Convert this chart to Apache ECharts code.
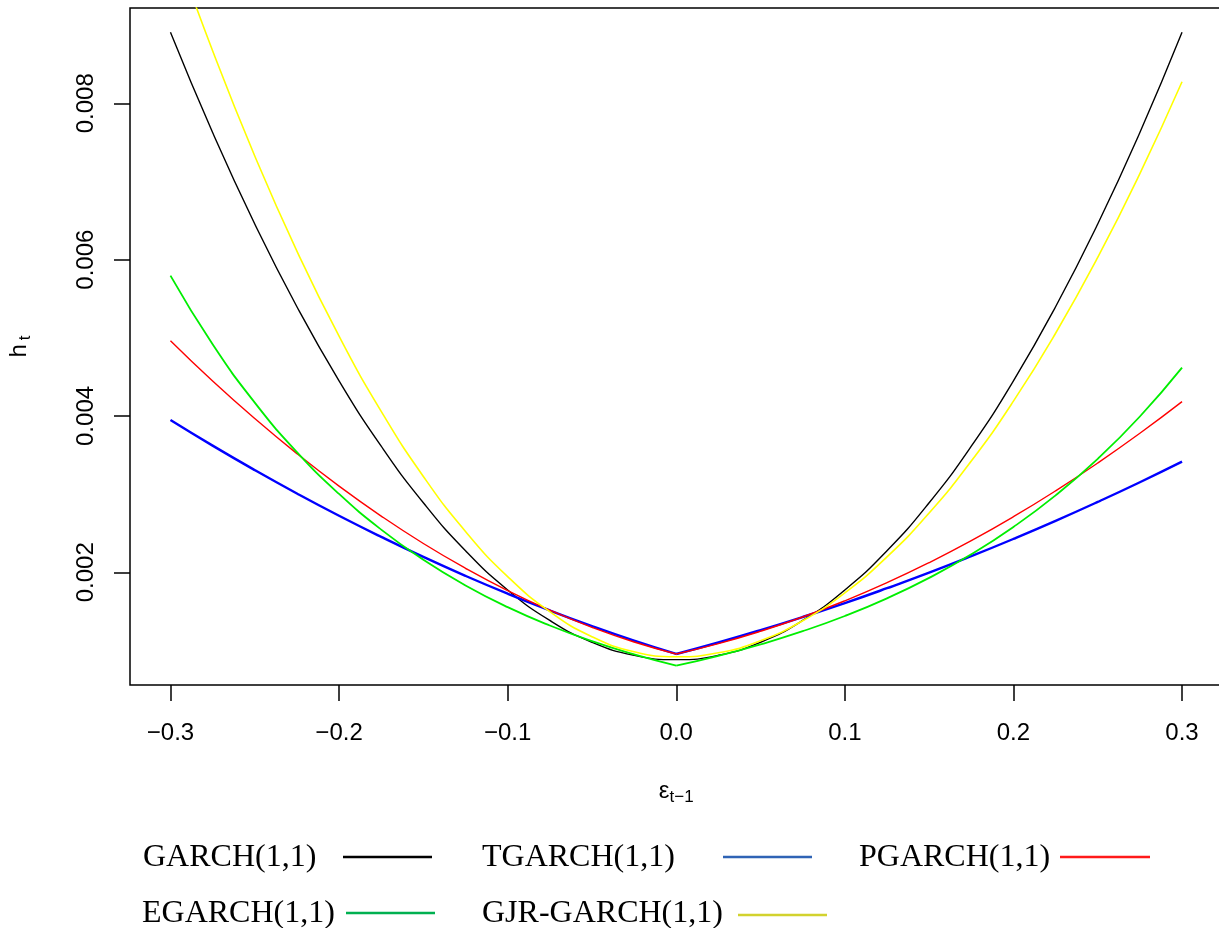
<!DOCTYPE html>
<html>
<head>
<meta charset="utf-8">
<script src="https://cdn.jsdelivr.net/npm/echarts@6/dist/echarts.min.js"></script>
<style>
  html, body { margin: 0; padding: 0; background: #fff; }
  #chart { width: 1219px; height: 928px; }
</style>
</head>
<body>
<div id="chart"></div>
<script>
// 冲击 ε(t-1)
const eps = [-0.3, -0.275, -0.25, -0.225, -0.2, -0.175, -0.15, -0.125, -0.1, -0.075, -0.05, -0.025, 0,
  0.025, 0.05, 0.075, 0.1, 0.125, 0.15, 0.175, 0.2, 0.225, 0.25, 0.275, 0.3];

// 各模型的条件方差 h(t)
const garch = [0.008908, 0.007626, 0.006456, 0.005397, 0.004449, 0.003613, 0.002889, 0.002275, 0.001774, 0.001384, 0.001105, 0.000938, 0.000882,
  0.000938, 0.001105, 0.001384, 0.001774, 0.002275, 0.002889, 0.003613, 0.004449, 0.005397, 0.006456, 0.007626, 0.008908];
const tgarch = [0.003948, 0.003620, 0.003307, 0.003008, 0.002723, 0.002453, 0.002196, 0.001954, 0.001726, 0.001512, 0.001312, 0.001126, 0.000955,
  0.001102, 0.001260, 0.001428, 0.001606, 0.001796, 0.001995, 0.002206, 0.002427, 0.002658, 0.002900, 0.003152, 0.003415];
const pgarch = [0.004963, 0.004448, 0.003967, 0.003518, 0.003102, 0.002719, 0.002368, 0.002051, 0.001766, 0.001515, 0.001295, 0.001108, 0.000955,
  0.001088, 0.001246, 0.001428, 0.001635, 0.001867, 0.002124, 0.002405, 0.002711, 0.003042, 0.003398, 0.003778, 0.004183];
const egarch = [0.005795, 0.004916, 0.004171, 0.003538, 0.003002, 0.002546, 0.002160, 0.001832, 0.001554, 0.001319, 0.001119, 0.000949, 0.000805,
  0.000931, 0.001077, 0.001246, 0.001441, 0.001667, 0.001928, 0.002230, 0.002580, 0.002984, 0.003452, 0.003993, 0.004618];
const gjr = [0.010145, 0.008672, 0.007326, 0.006109, 0.005020, 0.004059, 0.003226, 0.002522, 0.001945, 0.001497, 0.001176, 0.000984, 0.000920,
  0.000971, 0.001124, 0.001380, 0.001737, 0.002197, 0.002759, 0.003423, 0.004189, 0.005058, 0.006028, 0.007101, 0.008276];

// 刻度
const xTicks = [-0.3, -0.2, -0.1, 0, 0.1, 0.2, 0.3];
const yTicks = [0.002, 0.004, 0.006, 0.008];

// 图例文字
const names = ['GARCH(1,1)', 'TGARCH(1,1)', 'PGARCH(1,1)', 'EGARCH(1,1)', 'GJR-GARCH(1,1)'];

const chart = echarts.init(document.getElementById('chart'));

const toPairs = vals => eps.map((e, i) => [e, vals[i]]);
const mid = eps.indexOf(0);

function lineSeries(name, pairs, color, width) {
  return {
    name: name,
    type: 'line',
    data: pairs,
    symbol: 'none',
    smooth: 0.5,
    clip: true,
    lineStyle: { color: color, width: width },
    itemStyle: { color: color },
    emphasis: { disabled: true },
  };
}

// 在 0 处有折点的曲线，分成左右两段画
function kinked(name, vals, color, width) {
  const pairs = toPairs(vals);
  return [
    lineSeries(name, pairs.slice(0, mid + 1), color, width),
    lineSeries(name, pairs.slice(mid), color, width),
  ];
}

// 图例：文字在左，线段在右
function legendItem(text, tx, ty, x1, x2, ly, color) {
  return {
    type: 'group',
    children: [
      {
        type: 'text',
        left: tx, top: ty - 15,
        style: { text: text, font: '32px "Liberation Serif"', fill: '#000' },
      },
      {
        type: 'line',
        shape: { x1: x1, y1: ly, x2: x2, y2: ly },
        style: { stroke: color, lineWidth: 2.5 },
      },
    ],
  };
}

const fontAxis = 'Liberation Sans';

const option = {
  animation: false,
  backgroundColor: '#fff',
  grid: {
    left: 130, top: 8, right: -3.5, bottom: 243,
    show: true, borderColor: '#000', borderWidth: 1.5,
    outerBoundsMode: 'none',
  },
  xAxis: {
    type: 'value',
    min: -0.324, max: 0.324,
    name: 'ε{sub|t−1}',
    nameLocation: 'middle',
    nameGap: 92,
    nameTextStyle: {
      fontFamily: fontAxis, fontSize: 24, color: '#000',
      rich: { sub: { fontFamily: fontAxis, fontSize: 17, color: '#000', padding: [12, 0, 0, 0] } },
    },
    axisLine: { show: false, onZero: false },
    splitLine: { show: false },
    axisTick: { show: true, customValues: xTicks, length: 16, lineStyle: { color: '#000', width: 1.5 } },
    axisLabel: {
      customValues: xTicks,
      margin: 36,
      fontFamily: fontAxis, fontSize: 24, color: '#000',
      formatter: v => (v < 0 ? '−' : '') + Math.abs(v).toFixed(1),
    },
  },
  yAxis: {
    type: 'value',
    min: 0.000558, max: 0.009219,
    name: 'h{sub|t}',
    nameLocation: 'middle',
    nameGap: 96,
    nameTextStyle: {
      fontFamily: fontAxis, fontSize: 24, color: '#000',
      rich: { sub: { fontFamily: fontAxis, fontSize: 17, color: '#000', padding: [12, 0, 0, 4] } },
    },
    axisLine: { show: false, onZero: false },
    splitLine: { show: false },
    axisTick: { show: true, customValues: yTicks, length: 16, lineStyle: { color: '#000', width: 1.5 } },
    axisLabel: {
      customValues: yTicks,
      rotate: 90,
      margin: 32,
      fontFamily: fontAxis, fontSize: 24, color: '#000',
      formatter: v => v.toFixed(3),
    },
  },
  series: [
    lineSeries(names[0], toPairs(garch), '#000000', 1.4),
    ...kinked(names[1], tgarch, '#0000ff', 2.4),
    ...kinked(names[2], pgarch, '#ff0000', 1.4),
    ...kinked(names[3], egarch, '#00ee00', 1.8),
    lineSeries(names[4], toPairs(gjr), '#ffff00', 1.6),
  ],
  graphic: [
    legendItem(names[0], 143, 857, 343, 432, 857, '#000000'),
    legendItem(names[1], 482, 857, 723, 812, 857, '#2f63b5'),
    legendItem(names[2], 859, 857, 1060, 1150, 857, '#ff1a1a'),
    legendItem(names[3], 142, 913, 346, 435, 913, '#00b050'),
    legendItem(names[4], 482, 913, 738, 827, 915, '#d2d22e'),
  ],
};

chart.setOption(option);
</script>
</body>
</html>
